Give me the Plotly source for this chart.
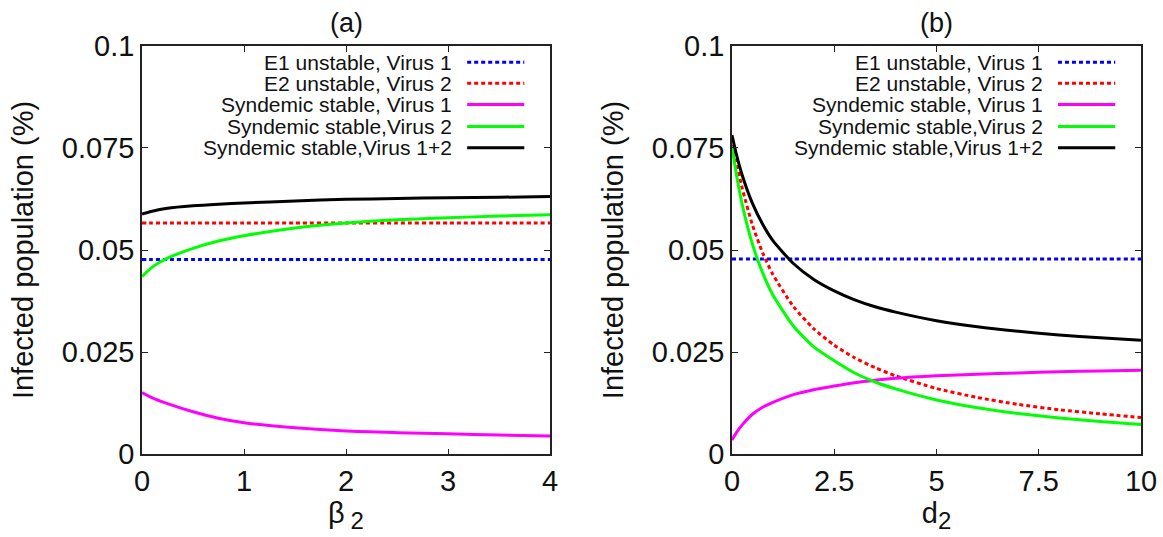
import plotly.graph_objects as go

# ---------------- data ----------------
beta2 = [0, 0.1, 0.25, 0.5, 0.75, 1, 1.5, 2, 2.5, 3, 3.5, 4]
a_e1_v1 = [0.0477] * len(beta2)
a_e2_v2 = [0.0566] * len(beta2)
a_syn_v1 = [0.0151, 0.0138, 0.0124, 0.0104, 0.0088, 0.0077, 0.0065, 0.0057, 0.0053, 0.0050, 0.0047, 0.0045]
a_syn_v2 = [0.0435, 0.0458, 0.0480, 0.0504, 0.0522, 0.0535, 0.0554, 0.0566, 0.0574, 0.0579, 0.0583, 0.0586]
a_syn_v12 = [0.0588, 0.0595, 0.0602, 0.0608, 0.0612, 0.0615, 0.0620, 0.0624, 0.0626, 0.0628, 0.0629, 0.0631]

d2 = [0, 0.1, 0.25, 0.5, 0.75, 1, 1.5, 2, 2.5, 3, 3.5, 4, 5, 6, 7, 8, 9, 10]
b_e1_v1 = [0.0478] * len(d2)
b_e2_v2 = [0.0775, 0.0720, 0.0651, 0.0561, 0.0493, 0.0440, 0.0362, 0.0307, 0.0267, 0.0236, 0.0212, 0.0192,
           0.0161, 0.0139, 0.0122, 0.0109, 0.0099, 0.0090]
b_syn_v1 = [0.0035, 0.0052, 0.0072, 0.0098, 0.0115, 0.0127, 0.0146, 0.0158, 0.0167, 0.0175, 0.0181, 0.0186,
            0.0192, 0.0196, 0.0199, 0.0202, 0.0204, 0.0206]
b_syn_v2 = [0.0753, 0.0689, 0.0611, 0.0514, 0.0444, 0.0390, 0.0314, 0.0263, 0.0229, 0.0199, 0.0177, 0.0160,
            0.0133, 0.0114, 0.0100, 0.0089, 0.0080, 0.0073]
b_syn_v12 = [0.0781, 0.0737, 0.0683, 0.0614, 0.0563, 0.0523, 0.0467, 0.0428, 0.0400, 0.0378, 0.0361, 0.0348,
             0.0327, 0.0312, 0.0301, 0.0292, 0.0285, 0.0279]

series_names = ["E1 unstable, Virus 1", "E2 unstable, Virus 2", "Syndemic stable, Virus 1",
                "Syndemic stable,Virus 2", "Syndemic stable,Virus 1+2"]
series_colors = ["#0000ff", "#ff0000", "#ff00ff", "#00ff00", "#000000"]
series_dash = ["4px,3px", "4px,3px", "solid", "solid", "solid"]

y_tickvals = [0, 0.025, 0.05, 0.075, 0.1]
y_ticktext = ["0", "0.025", "0.05", "0.075", "0.1"]
a_xticks = [0, 1, 2, 3, 4]
b_xticks = [0, 2.5, 5, 7.5, 10]
b_xticktext = ["0", "2.5", "5", "7.5", "10"]

W, H = 1163, 537
FONT = "Liberation Sans, Arial, Helvetica, sans-serif"

fig = go.Figure()

panels = [
    ("x", "y", beta2, [a_e1_v1, a_e2_v2, a_syn_v1, a_syn_v2, a_syn_v12]),
    ("x2", "y2", d2, [b_e1_v1, b_e2_v2, b_syn_v1, b_syn_v2, b_syn_v12]),
]
for xa, ya, xs, ys_list in panels:
    for name, col, dash, ys in zip(series_names, series_colors, series_dash, ys_list):
        fig.add_trace(go.Scatter(
            x=xs, y=ys, mode="lines", name=name, xaxis=xa, yaxis=ya,
            line=dict(color=col, width=3, dash=dash, shape="spline", smoothing=0.6),
            showlegend=False))

x1_dom = [142 / W, 550 / W]
x2_dom = [732 / W, 1141 / W]
y_dom = [1 - 454.3 / H, 1 - 45.7 / H]

axis_common = dict(
    showline=True, linecolor="#222222", linewidth=1.6, mirror="ticks",
    ticks="inside", ticklen=6, tickwidth=1.2, tickcolor="#222222",
    showgrid=False, zeroline=False, automargin=False,
    tickfont=dict(family=FONT, size=29, color="#111111"),
)

sub2 = "<sub><span style='font-size:24px'>2</span></sub>"

fig.update_layout(
    width=W, height=H,
    margin=dict(l=0, r=0, t=0, b=0),
    paper_bgcolor="white", plot_bgcolor="white",
    font=dict(family=FONT, color="#111111"),
    xaxis=dict(domain=x1_dom, range=[0, 4], tickvals=a_xticks, anchor="y",
               title=dict(text="β\u2009" + sub2, font=dict(family=FONT, size=29), standoff=4),
               **axis_common),
    yaxis=dict(domain=y_dom, range=[0, 0.1], tickvals=y_tickvals, ticktext=y_ticktext, anchor="x",
               title=dict(text="Infected population (%)", font=dict(family=FONT, size=29), standoff=20),
               **axis_common),
    xaxis2=dict(domain=x2_dom, range=[0, 10], tickvals=b_xticks, ticktext=b_xticktext, anchor="y2",
                title=dict(text="d" + sub2, font=dict(family=FONT, size=29), standoff=4),
                **axis_common),
    yaxis2=dict(domain=y_dom, range=[0, 0.1], tickvals=y_tickvals, ticktext=y_ticktext, anchor="x2",
                title=dict(text="Infected population (%)", font=dict(family=FONT, size=29), standoff=20),
                **axis_common),
)

# panel titles
for xa, label in (("x", "(a)"), ("x2", "(b)")):
    fig.add_annotation(text=label, xref=f"{xa} domain", yref="paper", x=0.5, y=1 - 23 / H,
                       showarrow=False, font=dict(family=FONT, size=27, color="#111111"),
                       xanchor="center", yanchor="middle")

# custom legends (text right-aligned, sample line to the right)
row_y = [0.9594, 0.908, 0.856, 0.802, 0.750]
for xa, ya in (("x", "y"), ("x2", "y2")):
    for name, col, dash, ry in zip(series_names, series_colors, series_dash, row_y):
        fig.add_annotation(text=name, xref=f"{xa} domain", yref=f"{ya} domain", x=0.765, y=ry,
                           showarrow=False, xanchor="right", yanchor="middle",
                           font=dict(family=FONT, size=21, color="#111111"))
        fig.add_shape(type="line", xref=f"{xa} domain", yref=f"{ya} domain",
                      x0=0.797, x1=0.937, y0=ry, y1=ry,
                      line=dict(color=col, width=3, dash=dash))

fig.write_html("out.html", post_script="document.body.style.margin='0';",
               config={"displayModeBar": False})
